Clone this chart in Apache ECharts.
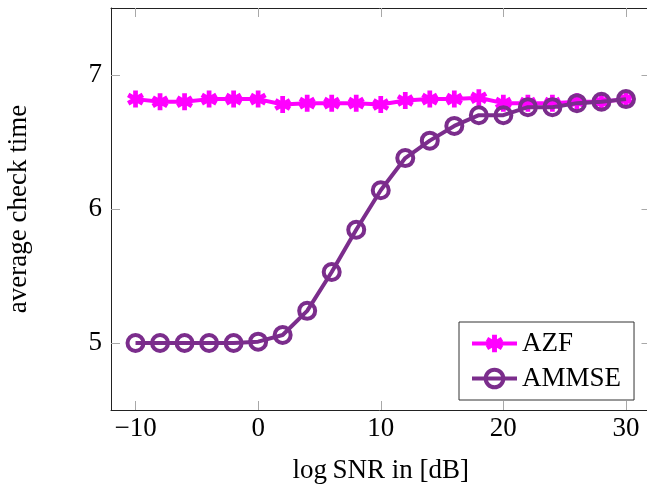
<!DOCTYPE html>
<html>
<head>
<meta charset="utf-8">
<script src="https://cdn.jsdelivr.net/npm/echarts@6/dist/echarts.min.js"></script>
<style>
html,body{margin:0;padding:0;background:#fff;}
#chart{width:647px;height:485px;}
</style>
</head>
<body>
<div id="chart"></div>
<script>
const snr = [-10,-8,-6,-4,-2,0,2,4,6,8,10,12,14,16,18,20,22,24,26,28,30];
const azf = [6.82,6.80,6.80,6.82,6.82,6.82,6.78,6.79,6.79,6.79,6.78,6.81,6.82,6.82,6.83,6.79,6.79,6.79,6.80,6.80,6.82];
const ammse = [5.00,5.00,5.00,5.00,5.00,5.01,5.06,5.24,5.53,5.845,6.14,6.38,6.51,6.62,6.70,6.70,6.76,6.76,6.79,6.80,6.82];
const xTicks = [-10,0,10,20,30];
const yTicks = [5,6,7];
const seriesNames = ['AZF','AMMSE'];

const magenta = '#ff00ff';
const purple = '#7b2d8c';
const font = 'Liberation Serif, Times New Roman, serif';
const starPath = 'path://M36 0L64 0L64 100L36 100Z M13.7 12.9L100.3 62.9L86.3 87.1L-0.3 37.1Z M-0.3 62.9L86.3 12.9L100.3 37.1L13.7 87.1Z';

const chart = echarts.init(document.getElementById('chart'), null, {renderer:'canvas'});
const fmt = v => String(v).replace('-', '\u2212');
const tickStyle = {lineStyle:{color:'#a8a8a8', width:1}};
chart.setOption({
  animation:false,
  backgroundColor:'#fff',
  grid:{left:111, top:8, width:539.5, height:402, containLabel:false, outerBoundsMode:'none'},
  xAxis:[{
    type:'value', min:-12, max:32, position:'bottom',
    axisLine:{show:true, onZero:false, lineStyle:{color:'#222', width:1}},
    axisTick:{show:true, inside:true, length:9, customValues:xTicks, ...tickStyle},
    axisLabel:{customValues:xTicks, formatter:fmt, color:'#000', fontFamily:font, fontSize:27, margin:5},
    splitLine:{show:false},
    name:'log\u2009SNR in [dB]', nameLocation:'middle', nameGap:47,
    nameTextStyle:{color:'#000', fontFamily:font, fontSize:27}
  },{
    type:'value', min:-12, max:32, position:'top',
    axisLine:{show:true, onZero:false, lineStyle:{color:'#222', width:1}},
    axisTick:{show:true, inside:true, length:9, customValues:xTicks, ...tickStyle},
    axisLabel:{show:false}, splitLine:{show:false}
  }],
  yAxis:[{
    type:'value', min:4.5, max:7.5, position:'left',
    axisLine:{show:true, onZero:false, lineStyle:{color:'#222', width:1}},
    axisTick:{show:true, inside:true, length:9, customValues:yTicks, ...tickStyle},
    axisLabel:{customValues:yTicks, color:'#000', fontFamily:font, fontSize:27, margin:9},
    splitLine:{show:false},
    name:'average check time', nameLocation:'middle', nameGap:79, nameRotate:90,
    nameTextStyle:{color:'#000', fontFamily:font, fontSize:27}
  },{
    type:'value', min:4.5, max:7.5, position:'right',
    axisLine:{show:false, onZero:false},
    axisTick:{show:true, inside:true, length:9, customValues:yTicks, ...tickStyle},
    axisLabel:{show:false}, splitLine:{show:false}
  }],
  legend:{
    orient:'vertical', left:459, top:322,
    data:[{name:seriesNames[0]}, {name:seriesNames[1], itemStyle:{borderWidth:4}}],
    borderColor:'#333', borderWidth:1, backgroundColor:'#fff',
    padding:[8,13,8,11], itemGap:8, itemWidth:45, itemHeight:22,
    lineStyle:{width:4},
    textStyle:{color:'#000', fontFamily:font, fontSize:27, lineHeight:26}
  },
  series:[{
    name:seriesNames[0], type:'line',
    data:snr.map((x,i)=>[x, azf[i]]),
    symbol:starPath, symbolSize:17, showAllSymbol:true,
    lineStyle:{color:magenta, width:4},
    itemStyle:{color:magenta},
    z:2
  },{
    name:seriesNames[1], type:'line',
    data:snr.map((x,i)=>[x, ammse[i]]),
    symbol:'circle', symbolSize:16, showAllSymbol:true,
    lineStyle:{color:purple, width:4},
    itemStyle:{color:'rgba(255,255,255,0)', borderColor:purple, borderWidth:4},
    z:3
  }]
});
</script>
</body>
</html>
